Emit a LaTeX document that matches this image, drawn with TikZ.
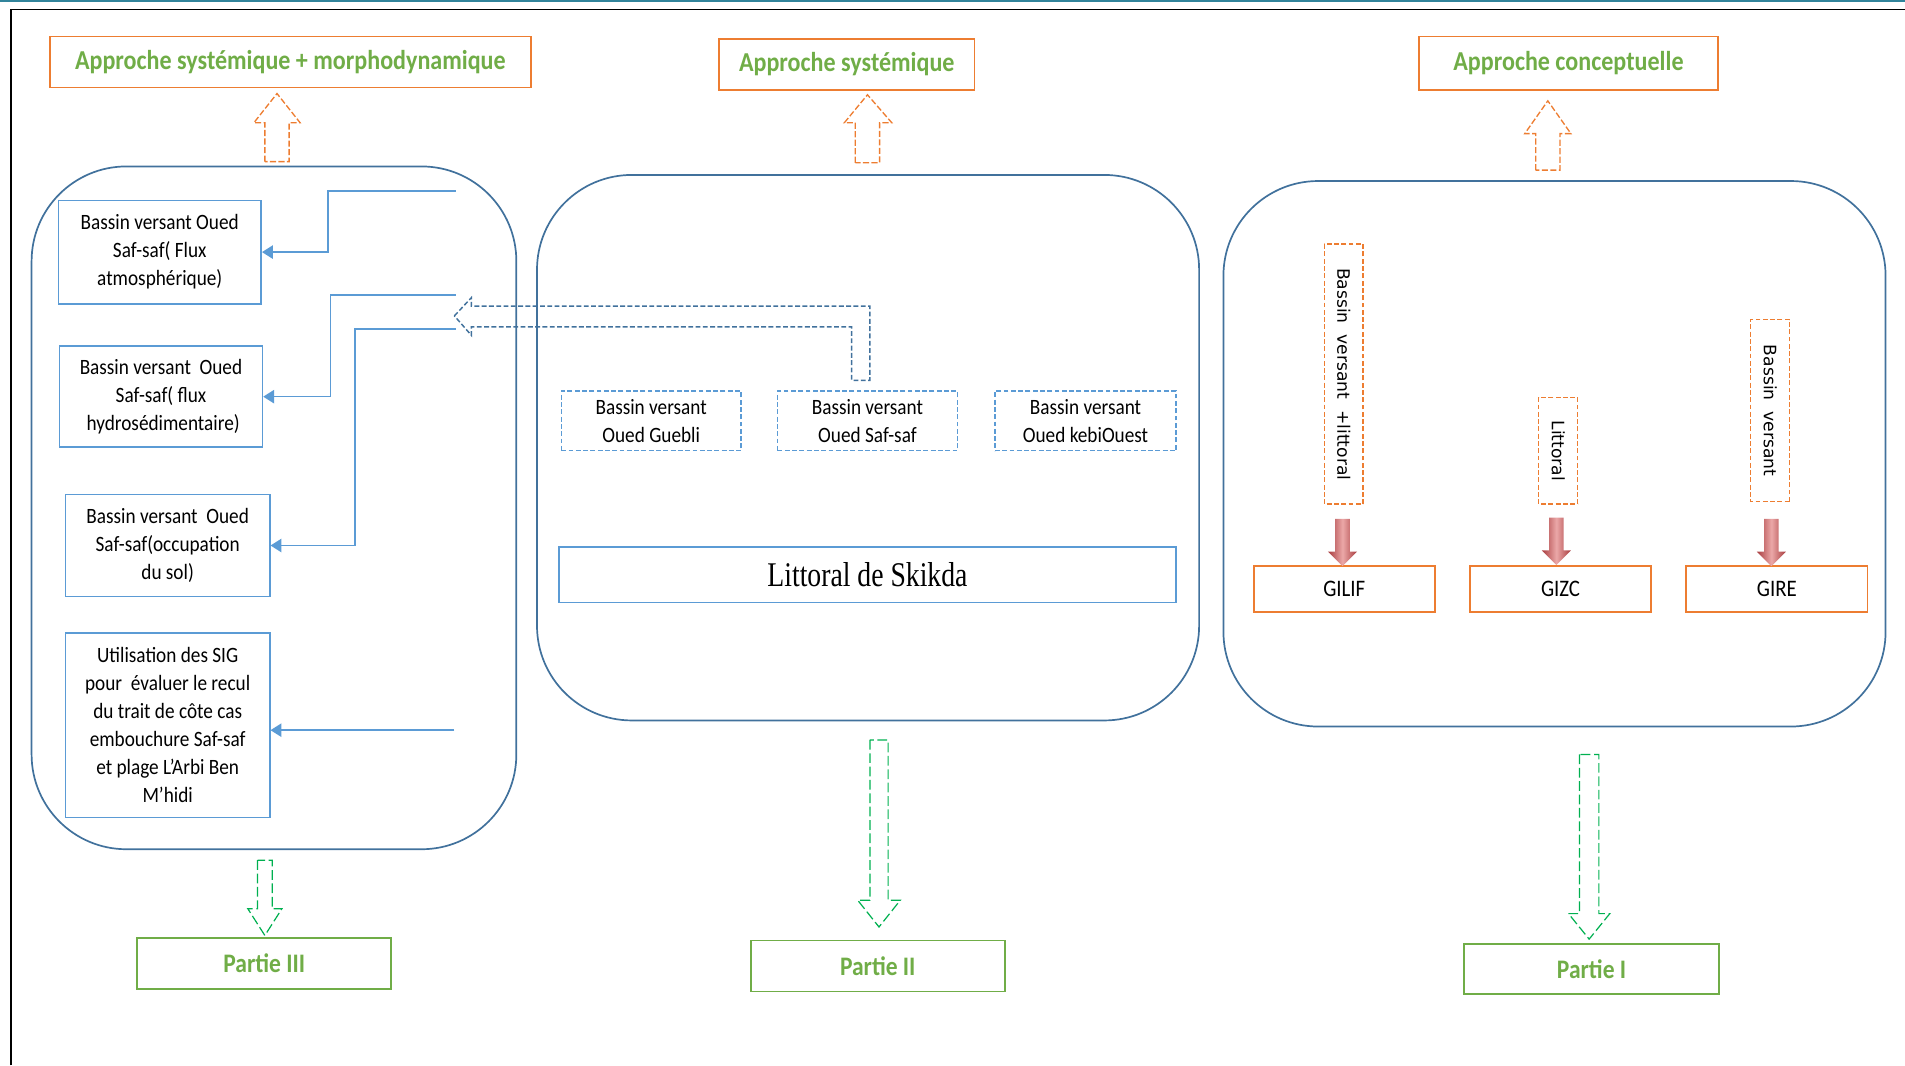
\documentclass[tikz,border=0pt]{standalone}
\usepackage{fontspec}
\setmainfont[FakeStretch=0.88]{Carlito}
\newfontfamily\vertfont{DejaVu Sans}
\newfontfamily\timesfont[FakeStretch=0.8]{Liberation Serif}
\usepackage{xcolor}
\usetikzlibrary{positioning,arrows.meta,calc}

\definecolor{orng}{HTML}{ED7D31}
\definecolor{grn}{HTML}{70AD47}
\definecolor{grnarr}{HTML}{00B050}
\definecolor{pnlblue}{HTML}{41719C}
\definecolor{boxblue}{HTML}{5B9BD5}
\definecolor{frameteal}{HTML}{31849B}
\definecolor{reddark}{HTML}{A83C3E}
\definecolor{redlight}{HTML}{EBA8A8}

\begin{document}
\begin{tikzpicture}[x=1pt,y=-1pt,
    titlebox/.style={draw=orng,line width=1.3pt,text=grn,inner sep=0pt,
      font=\bfseries\fontsize{22.5}{25}\selectfont},
    panel/.style={draw=pnlblue,line width=1.4pt,rounded corners=78pt,inner sep=0pt},
    leftbox/.style={draw=boxblue,line width=1.3pt,inner sep=0pt,align=center,
      font=\fontsize{18}{23}\selectfont},
    basinbox/.style={draw=boxblue,line width=1.2pt,dash pattern=on 4pt off 2pt,inner sep=0pt,
      align=center,minimum height=49,font=\fontsize{18}{23}\selectfont},
    vertbox/.style={draw=orng,line width=1.2pt,dash pattern=on 4pt off 2pt,inner sep=0pt,
      rotate=-90,minimum height=32,font=\vertfont\fontsize{14.1}{16}\selectfont},
    gestbox/.style={draw=orng,line width=1.4pt,inner sep=0pt,minimum width=149,minimum height=38,
      font=\fontsize{19.5}{22}\selectfont},
    partbox/.style={draw=grn,line width=1.4pt,text=grn,inner sep=0pt,minimum width=209,minimum height=42,
      font=\bfseries\fontsize{22}{25}\selectfont},
    conn/.style={draw=boxblue,line width=1.3pt,-{Triangle[width=11pt,length=9pt]}},
    uparr/.style={draw=orng,line width=1.1pt,dash pattern=on 5pt off 2pt},
    downarr/.style={draw=grnarr,line width=1pt,dash pattern=on 8pt off 3pt},
    bentarr/.style={draw=pnlblue,line width=1.2pt,dash pattern=on 4pt off 2pt},
    redarr/.style={left color=reddark,right color=reddark,middle color=redlight}]

\useasboundingbox (0,0) rectangle (1568,877);
\draw[frameteal,line width=2pt] (0,1) -- (1568,1);
\draw[black,line width=1.2pt] (9,877) -- (9,8) -- (1568,8);

\node[titlebox,minimum width=396,minimum height=42] (t3) at (239,51) {Approche systémique + morphodynamique};
\node[titlebox,minimum width=210,minimum height=42] (t2) at (697,53) {Approche systémique};
\node[titlebox,minimum width=246,minimum height=44] (t1) at (1291,52) {Approche conceptuelle};

\node[panel,minimum width=399,minimum height=562] (p3) at (225.5,418) {};
\node[panel,minimum width=545,minimum height=449] (p2) at (714.5,368.5) {};
\node[panel,minimum width=545,minimum height=449] (p1) at (1279.5,373.5) {};

\draw[uparr] (218,133) -- (218,101) -- (209,101) -- (228,77) -- (247,101) -- (238,101) -- (238,133) -- cycle;
\draw[uparr] (704,134) -- (704,101) -- (695,101) -- (714,78) -- (734,101) -- (724,101) -- (724,134) -- cycle;
\draw[uparr] (1264,140) -- (1264,110) -- (1255,110) -- (1274,83) -- (1293,110) -- (1284,110) -- (1284,140) -- cycle;

\node[leftbox,minimum width=167,minimum height=85] (l1) at (131.5,207.5) {Bassin versant Oued\\Saf-saf( Flux\\atmosphérique)};
\node[leftbox,minimum width=167,minimum height=83] (l2) at (132.5,326.5) {Bassin versant\ \ Oued\\Saf-saf( flux\\\ hydrosédimentaire)};
\node[leftbox,minimum width=168,minimum height=84] (l3) at (138,449) {Bassin versant\ \ Oued\\Saf-saf(occupation\\du sol)};
\node[leftbox,minimum width=168,minimum height=152] (l4) at (138,597) {Utilisation des SIG\\pour\ \ évaluer le recul\\du trait de côte cas\\embouchure Saf-saf\\et plage L’Arbi Ben\\M’hidi};

\coordinate (s1) at (375,157);
\coordinate (s2) at (375,243);
\coordinate (s3) at (375,271);
\coordinate (s4) at (374,601);
\draw[conn] (s1) -- (270,157) |- (l1.east);
\draw[conn] (s2) -- (272,243) |- (l2.east);
\draw[conn] (s3) -- (292,271) |- (l3.east);
\draw[conn] (s4) -- (s4 -| l4.east);

\draw[bentarr] (374,260) -- (388,245) -- (388,252) -- (716,252) -- (716,313) -- (701,313) -- (701,269) -- (388,269) -- (388,276) -- cycle;

\node[basinbox,minimum width=148] (m1) at (536,346.5) {Bassin versant\\Oued Guebli};
\node[basinbox,minimum width=148] (m2) at (714,346.5) {Bassin versant\\Oued Saf-saf};
\node[basinbox,minimum width=149] (m3) at (893.5,346.5) {Bassin versant\\Oued kebiOuest};
\node[draw=boxblue,line width=1.3pt,inner sep=0pt,minimum width=508,minimum height=46,
  font=\timesfont\fontsize{28.5}{30}\selectfont] (lit) at (714,473) {Littoral de Skikda};

\node[vertbox,minimum width=214] (v1) at (1106,308) {Bassin\ \ versant\ \ +littoral\hspace{12pt}};
\node[vertbox,minimum width=88] (v2) at (1282.5,371) {Littoral\hspace{7pt}};
\node[vertbox,minimum width=150] (v3) at (1457,338) {Bassin\ \ versant\hspace{12pt}};

\node[gestbox] (g1) at (1106.5,485) {GILIF};
\node[gestbox] (g2) at (1284.5,485) {GIZC};
\node[gestbox] (g3) at (1462.5,485) {GIRE};

\shade[redarr] (1099,427) -- (1099,454) -- (1093,454) -- (1105,466) -- (1117,454) -- (1111,454) -- (1111,427) -- cycle;
\shade[redarr] (1275,426) -- (1275,453) -- (1269,453) -- (1281,465) -- (1293,453) -- (1287,453) -- (1287,426) -- cycle;
\shade[redarr] (1452,427) -- (1452,454) -- (1446,454) -- (1458,466) -- (1470,454) -- (1464,454) -- (1464,427) -- cycle;

\draw[downarr] (212,708) -- (212,748) -- (204,748) -- (218,770) -- (232,748) -- (224,748) -- (224,708) -- cycle;
\draw[downarr] (716,609) -- (716,741) -- (706,741) -- (723.5,763) -- (741,741) -- (731,741) -- (731,609) -- cycle;
\draw[downarr] (1300,621) -- (1300,752) -- (1291,752) -- (1308,773) -- (1325,752) -- (1316,752) -- (1316,621) -- cycle;

\node[partbox] (pt3) at (217.5,793) {Partie III};
\node[partbox] (pt2) at (722.5,795) {Partie II};
\node[partbox,minimum width=210,minimum height=41] (pt1) at (1310,797.5) {Partie I};

\end{tikzpicture}
\end{document}
